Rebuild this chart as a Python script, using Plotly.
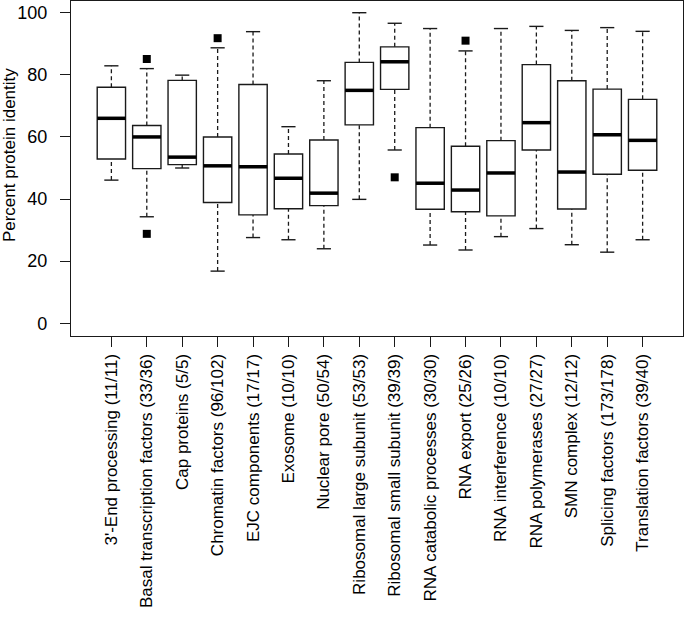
import plotly.graph_objects as go

categories = [
    "3'-End processing (11/11)",
    "Basal transcription factors (33/36)",
    "Cap proteins (5/5)",
    "Chromatin factors (96/102)",
    "EJC components (17/17)",
    "Exosome (10/10)",
    "Nuclear pore (50/54)",
    "Ribosomal large subunit (53/53)",
    "Ribosomal small subunit (39/39)",
    "RNA catabolic processes (30/30)",
    "RNA export (25/26)",
    "RNA interference (10/10)",
    "RNA polymerases (27/27)",
    "SMN complex (12/12)",
    "Splicing factors (173/178)",
    "Translation factors (39/40)",
]
whisker_low = [46.1, 34.3, 50.0, 16.8, 27.6, 26.9, 24.0, 39.9, 55.8, 25.2, 23.6, 27.9, 30.5, 25.3, 22.9, 26.9]
q1 = [52.9, 49.8, 51.1, 38.9, 34.9, 36.9, 37.9, 63.9, 75.3, 36.7, 35.9, 34.6, 55.8, 36.8, 48.0, 49.3]
median = [66.0, 60.0, 53.5, 50.7, 50.4, 46.7, 41.9, 75.0, 84.2, 45.1, 42.9, 48.4, 64.6, 48.7, 60.7, 58.9]
q3 = [76.0, 63.7, 78.2, 60.0, 76.9, 54.5, 59.0, 84.0, 89.0, 63.0, 57.0, 58.8, 83.3, 78.1, 75.4, 72.1]
whisker_high = [82.9, 82.0, 79.9, 88.7, 93.9, 63.3, 78.1, 100.0, 96.6, 94.9, 87.7, 94.9, 95.6, 94.3, 95.2, 94.0]
outlier_cat = [2, 2, 4, 9, 11]
outlier_val = [85.1, 28.8, 91.8, 47.0, 91.0]
y_ticks = [0, 20, 40, 60, 80, 100]
y_title = "Percent protein identity"

pos = list(range(1, len(categories) + 1))
FONT = "Liberation Sans"
INK = "#1a1a1a"
BOXW = 0.8
CAPW = 0.4

fig = go.Figure()

# Boxes (IQR)
fig.add_trace(go.Box(
    x=pos, q1=q1, median=median, q3=q3,
    lowerfence=q1, upperfence=q3,
    width=BOXW, fillcolor="white",
    line=dict(color=INK, width=1.4),
    boxpoints=False, showlegend=False, hoverinfo="skip",
))

# Dashed whiskers
wx, wy = [], []
for p, a, b, c, d in zip(pos, whisker_low, q1, q3, whisker_high):
    wx += [p, p, None, p, p, None]
    wy += [a, b, None, c, d, None]
fig.add_trace(go.Scatter(x=wx, y=wy, mode="lines",
                         line=dict(color=INK, width=1.3, dash="4px,3px"),
                         showlegend=False, hoverinfo="skip"))

# Whisker caps
cx, cy = [], []
for p, a, d in zip(pos, whisker_low, whisker_high):
    cx += [p - CAPW / 2, p + CAPW / 2, None, p - CAPW / 2, p + CAPW / 2, None]
    cy += [a, a, None, d, d, None]
fig.add_trace(go.Scatter(x=cx, y=cy, mode="lines",
                         line=dict(color=INK, width=1.4),
                         showlegend=False, hoverinfo="skip"))

# Thick medians
mx, my = [], []
for p, m in zip(pos, median):
    mx += [p - BOXW / 2, p + BOXW / 2, None]
    my += [m, m, None]
fig.add_trace(go.Scatter(x=mx, y=my, mode="lines",
                         line=dict(color="black", width=3.5),
                         showlegend=False, hoverinfo="skip"))

# Outliers
fig.add_trace(go.Scatter(x=outlier_cat, y=outlier_val, mode="markers",
                         marker=dict(symbol="square", size=8, color="black"),
                         showlegend=False, hoverinfo="skip"))

fig.add_annotation(
    text=y_title, textangle=-90, showarrow=False,
    xref="paper", yref="paper", x=-0.1013, y=0.54,
    xanchor="center", yanchor="middle",
    font=dict(family=FONT, size=17, color="black"),
)

fig.update_layout(
    width=685, height=617,
    margin=dict(l=71, r=2, t=1, b=281),
    paper_bgcolor="white", plot_bgcolor="white",
    font=dict(family=FONT, size=17, color="black"),
    xaxis=dict(
        range=[-0.14, 17.14],
        tickmode="array", tickvals=pos, ticktext=categories,
        tickangle=-90, ticks="outside", ticklen=10, tickwidth=1.3, tickcolor=INK,
        showline=True, mirror=True, linecolor=INK, linewidth=1.3,
        showgrid=False, zeroline=False, ticklabelstandoff=0,
        automargin=False,
    ),
    yaxis=dict(
        range=[-4.09, 103.77],
        tickmode="array", tickvals=y_ticks,
        ticks="outside", ticklen=10, tickwidth=1.3, tickcolor=INK,
        showline=True, mirror=True, linecolor=INK, linewidth=1.3,
        showgrid=False, zeroline=False, ticklabelstandoff=9,
        tickfont=dict(size=18),
        automargin=False,
    ),
)

fig.write_html("out.html", config={"displayModeBar": False},
               post_script="document.body.style.margin='0';document.body.style.overflow='hidden';")
